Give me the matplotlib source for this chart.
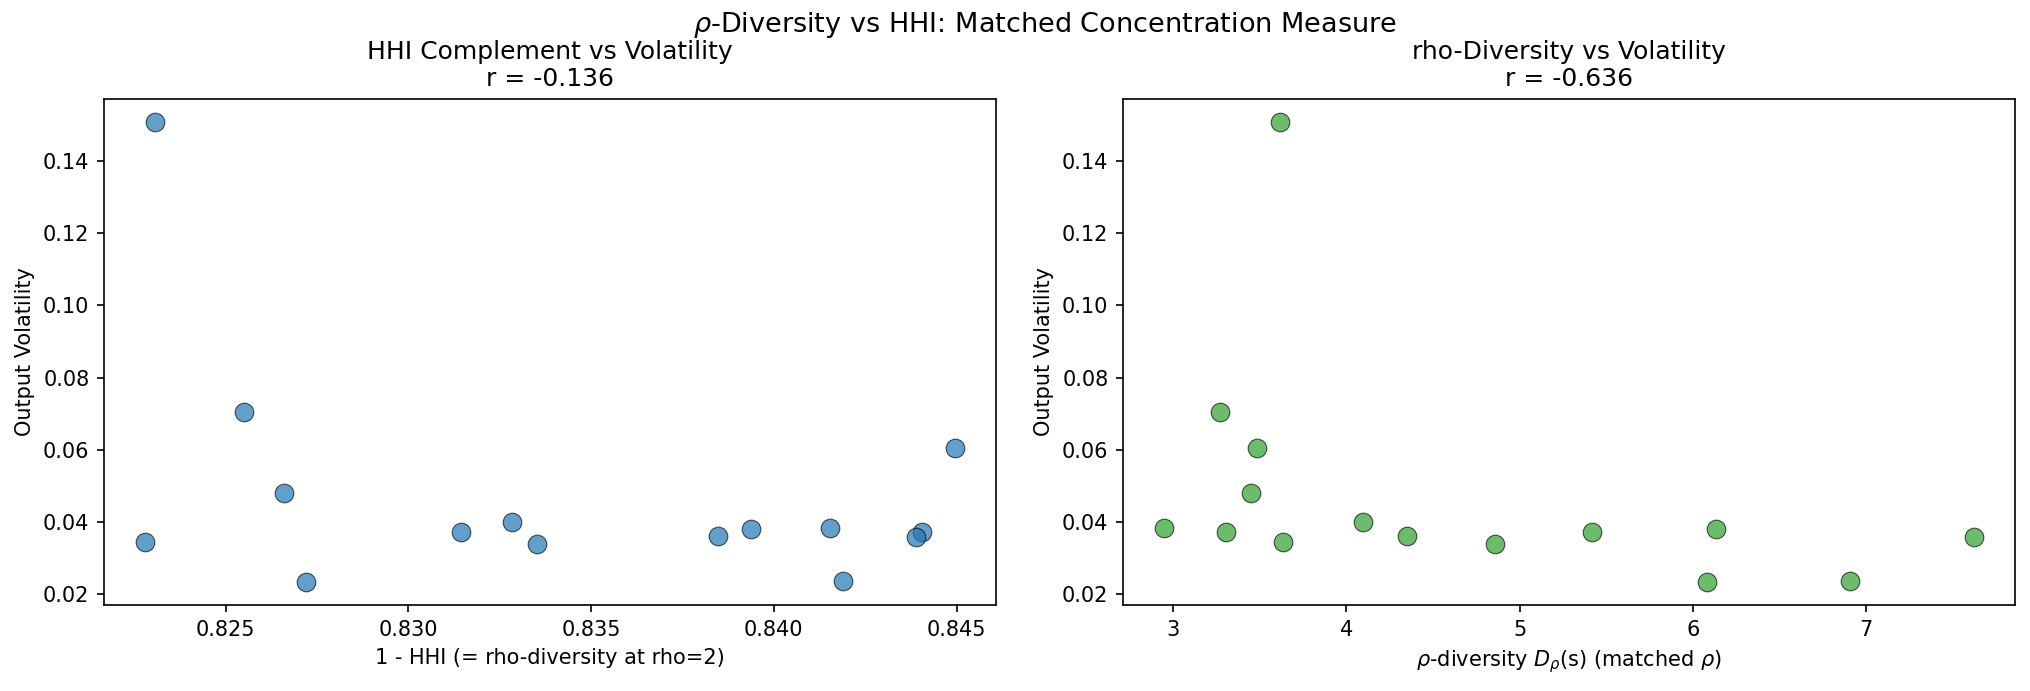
import matplotlib
matplotlib.use("Agg")
import matplotlib.pyplot as plt
import numpy as np

hhi_complement = [0.82306, 0.82551, 0.84497, 0.82660, 0.83284, 0.84154, 0.83938,
                  0.83145, 0.84406, 0.83847, 0.84389, 0.82278, 0.83353, 0.84190, 0.82721]
rho_diversity = [3.618, 3.268, 3.483, 3.448, 4.097, 2.944, 6.134,
                 3.303, 5.417, 4.347, 7.625, 3.633, 4.855, 6.908, 6.080]
volatility = [0.1509, 0.0704, 0.0604, 0.0480, 0.0399, 0.0383, 0.0379,
              0.0372, 0.0371, 0.0360, 0.0358, 0.0343, 0.0339, 0.0235, 0.0233]

r_hhi = -0.136
r_rho = -0.636

fig, axes = plt.subplots(1, 2, figsize=(2030 / 150, 691 / 150), dpi=150)
fig.subplots_adjust(left=104 / 2030, right=2015 / 2030, bottom=1 - 605 / 691,
                    top=1 - 99 / 691, wspace=127 / 892)

ax1, ax2 = axes
ax1.scatter(hhi_complement, volatility, s=80, color="tab:blue", alpha=0.7,
            edgecolors="black", linewidths=0.5)
ax1.set_xlabel("1 - HHI (= rho-diversity at rho=2)")
ax1.set_ylabel("Output Volatility")
ax1.set_title(f"HHI Complement vs Volatility\nr = {r_hhi:.3f}", fontsize=12)

ax2.scatter(rho_diversity, volatility, s=80, color="tab:green", alpha=0.7,
            edgecolors="black", linewidths=0.5)
ax2.set_xlabel(r"$\rho$-diversity $D_\rho$(s) (matched $\rho$)")
ax2.set_ylabel("Output Volatility")
ax2.set_title(f"rho-Diversity vs Volatility\nr = {r_rho:.3f}", fontsize=12)

fig.suptitle(r"$\rho$-Diversity vs HHI: Matched Concentration Measure",
             fontsize=13, x=1045 / 2030, y=0.985)

fig.savefig("out.png", dpi=150)
